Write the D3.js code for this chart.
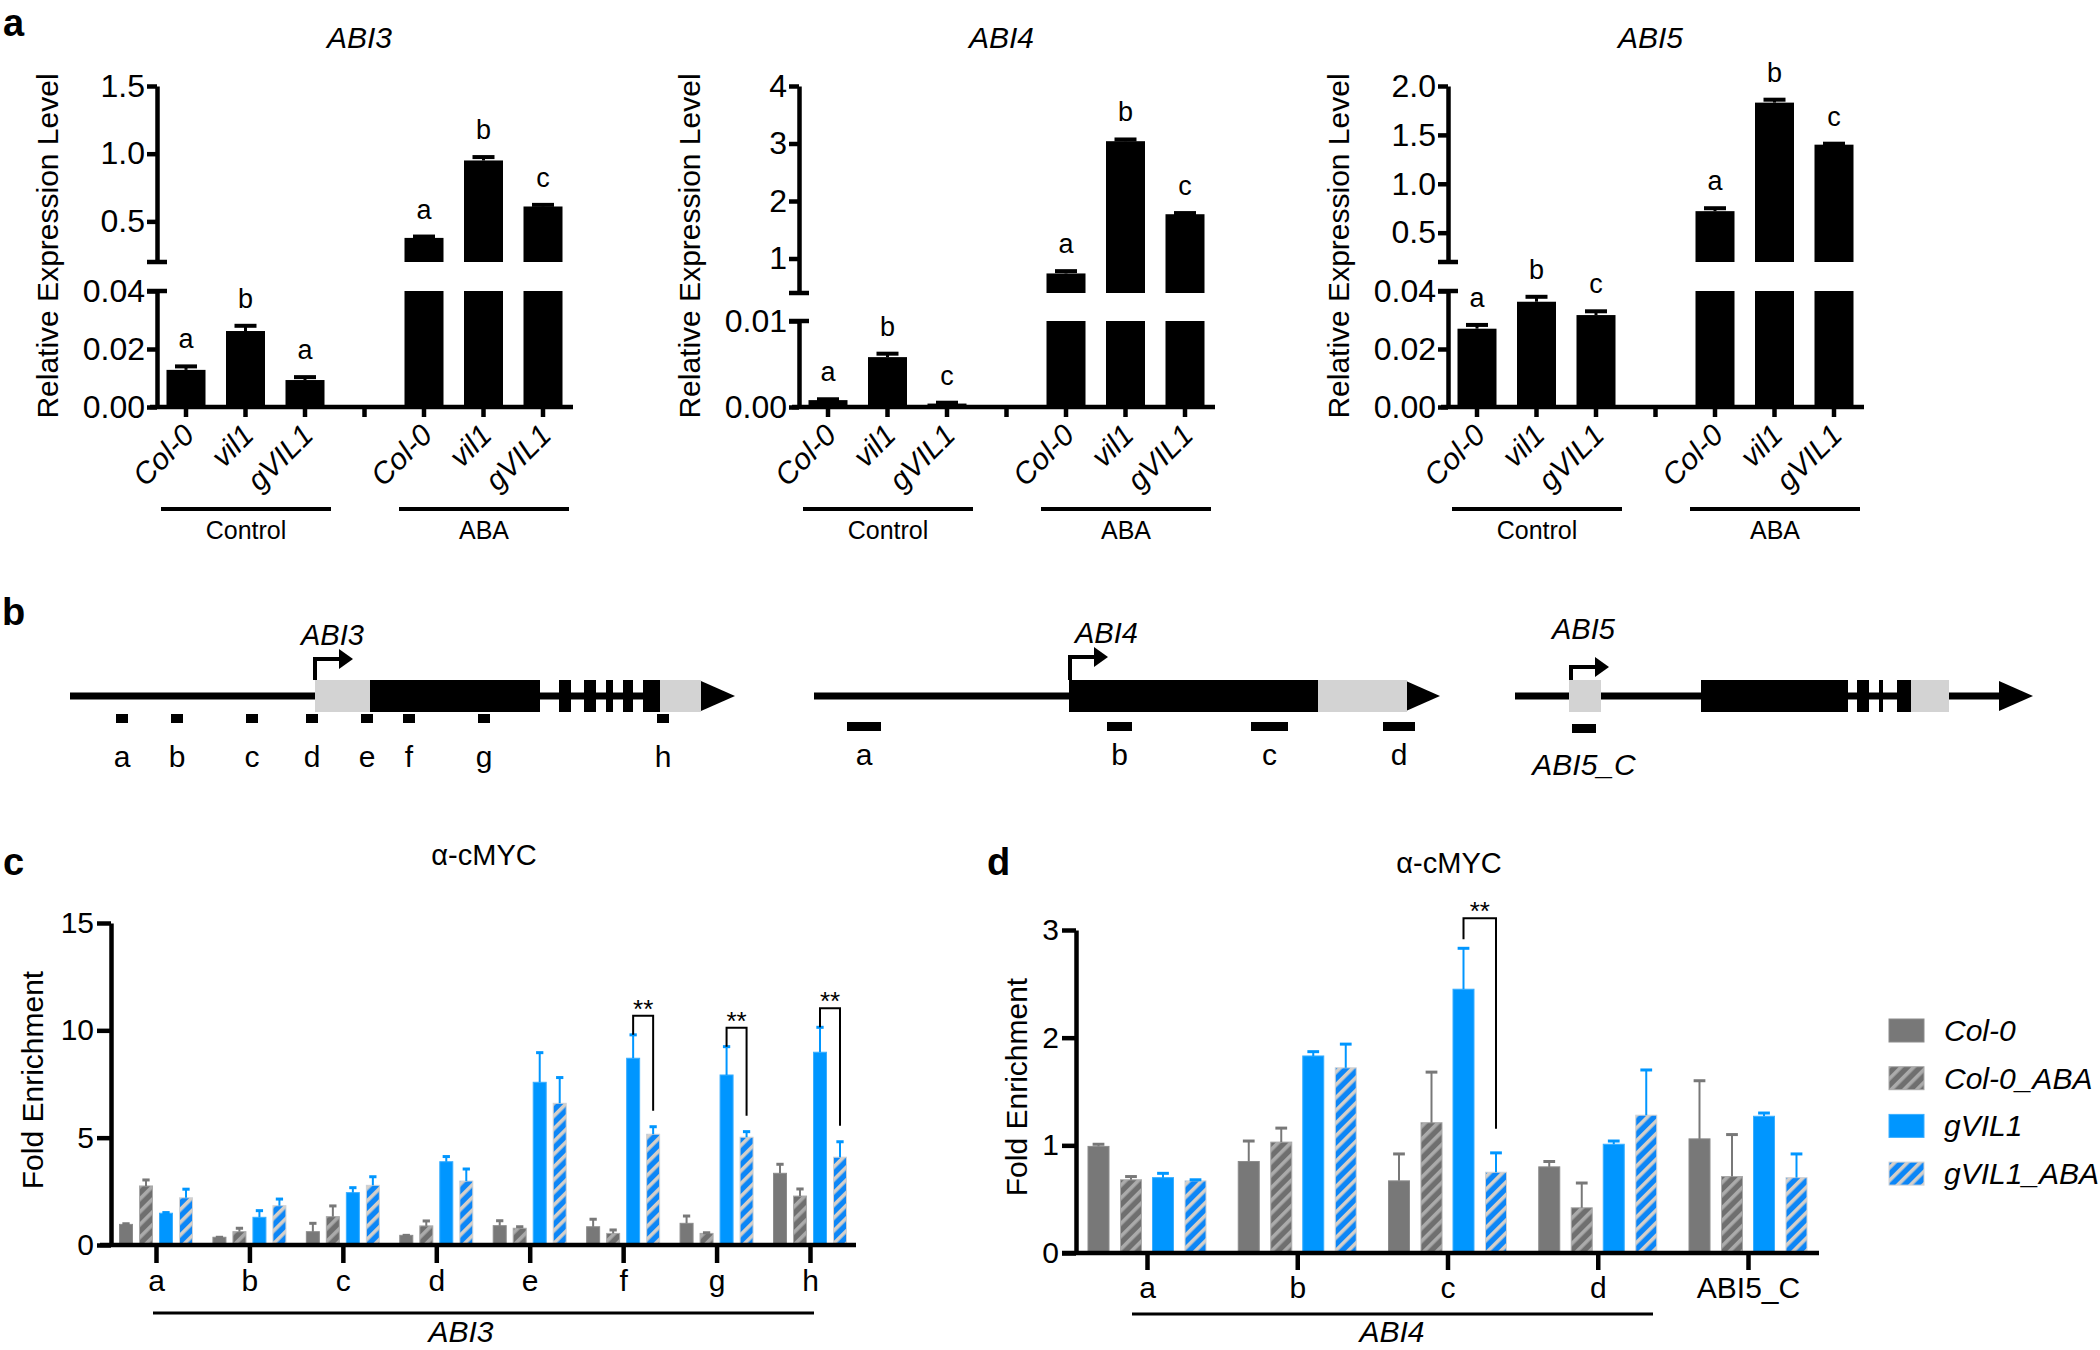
<!DOCTYPE html>
<html>
<head>
<meta charset="utf-8">
<script src="https://cdn.jsdelivr.net/npm/d3@7"></script>
<style>
    body { margin: 0; background: #fff; }
    svg text { font-family: "Liberation Sans", Arial, sans-serif; fill: #000; }
</style>
</head>
<body>
<div id="canvas"></div>
<script>
/**
 * Data
 */
const genotypes = ["Col-0", "vil1", "gVIL1"];
const treatments = ["Control", "ABA"];

// panel a: relative expression (Control x3, ABA x3)
const abi3Mean = [0.0128, 0.0262, 0.0093, 0.378, 0.950, 0.610];
const abi3Err = [0.0012, 0.0018, 0.0010, 0.010, 0.025, 0.012];
const abi3Letters = ["a", "b", "a", "a", "b", "c"];
const abi3UpperTicks = [0.5, 1.0, 1.5];
const abi3LowerTicks = [0, 0.02, 0.04];

const abi4Mean = [0.0008, 0.0058, 0.0004, 0.74, 3.04, 1.77];
const abi4Err = [0.0001, 0.0004, 0.0001, 0.04, 0.03, 0.02];
const abi4Letters = ["a", "b", "c", "a", "b", "c"];
const abi4UpperTicks = [1, 2, 3, 4];
const abi4LowerTicks = [0, 0.01];

const abi5Mean = [0.0270, 0.0363, 0.0317, 0.72, 1.83, 1.40];
const abi5Err = [0.0013, 0.0017, 0.0013, 0.03, 0.03, 0.01];
const abi5Letters = ["a", "b", "c", "a", "b", "c"];
const abi5UpperTicks = [0.5, 1.0, 1.5, 2.0];
const abi5LowerTicks = [0, 0.02, 0.04];

// panel b: gene models (units along the drawn gene)
const abi3Utr = [[245, 300], [590, 631]];
const abi3Exons = [[300, 470], [489, 501], [514, 526], [536, 543], [553, 563], [573, 590]];
const abi3AmpNames = ["a", "b", "c", "d", "e", "f", "g", "h"];
const abi3AmpPos = [[46, 58], [101, 113], [176, 188], [236, 248], [291, 303], [333, 345], [408, 420], [587, 599]];

const abi4Utr = [[504, 593]];
const abi4Exons = [[255, 504]];
const abi4AmpNames = ["a", "b", "c", "d"];
const abi4AmpPos = [[33, 67], [293, 318], [437, 474], [569, 601]];

const abi5Utr = [[54, 86], [396, 434]];
const abi5Exons = [[186, 333], [342, 354], [364, 368], [382, 396]];
const abi5AmpNames = ["ABI5_C"];
const abi5AmpPos = [[57, 81]];

// panel c: ChIP fold enrichment on ABI3
const seriesNames = ["Col-0", "Col-0_ABA", "gVIL1", "gVIL1_ABA"];
const cSites = ["a", "b", "c", "d", "e", "f", "g", "h"];
const cCol0 = [0.96, 0.36, 0.62, 0.45, 0.90, 0.85, 1.01, 3.34];
const cCol0Err = [0.03, 0, 0.39, 0, 0.23, 0.35, 0.34, 0.42];
const cCol0ABA = [2.75, 0.62, 1.32, 0.89, 0.78, 0.54, 0.54, 2.28];
const cCol0ABAErr = [0.28, 0.16, 0.50, 0.23, 0.07, 0.16, 0.03, 0.33];
const cGVIL1 = [1.48, 1.29, 2.44, 3.88, 7.58, 8.70, 7.92, 8.98];
const cGVIL1Err = [0.03, 0.31, 0.23, 0.24, 1.38, 1.09, 1.32, 1.16];
const cGVIL1ABA = [2.20, 1.83, 2.78, 2.98, 6.60, 5.16, 5.02, 4.09];
const cGVIL1ABAErr = [0.40, 0.31, 0.40, 0.56, 1.20, 0.35, 0.26, 0.72];
const cSig = ["f", "g", "h"];
const cTicks = [0, 5, 10, 15];

// panel d: ChIP fold enrichment on ABI4 / ABI5
const dSites = ["a", "b", "c", "d", "ABI5_C"];
const dCol0 = [0.99, 0.85, 0.67, 0.80, 1.06];
const dCol0Err = [0.02, 0.19, 0.25, 0.05, 0.54];
const dCol0ABA = [0.68, 1.03, 1.21, 0.42, 0.71];
const dCol0ABAErr = [0.03, 0.13, 0.47, 0.23, 0.39];
const dGVIL1 = [0.70, 1.83, 2.45, 1.01, 1.27];
const dGVIL1Err = [0.04, 0.04, 0.38, 0.03, 0.03];
const dGVIL1ABA = [0.67, 1.72, 0.75, 1.28, 0.70];
const dGVIL1ABAErr = [0.01, 0.22, 0.18, 0.42, 0.22];
const dSig = ["c"];
const dTicks = [0, 1, 2, 3];

/**
 * Helpers
 */
const svg = d3.select("#canvas").append("svg")
    .attr("width", 2100)
    .attr("height", 1350);

const defs = svg.append("defs");
function addHatch(id, base, stripe) {
    const p = defs.append("pattern")
        .attr("id", id)
        .attr("patternUnits", "userSpaceOnUse")
        .attr("width", 9)
        .attr("height", 9)
        .attr("patternTransform", "rotate(45)");
    p.append("rect").attr("width", 9).attr("height", 9).attr("fill", base);
    p.append("rect").attr("width", 3.6).attr("height", 9).attr("fill", stripe);
}
addHatch("hatchGray", "#6f6f6f", "#ababab");
addHatch("hatchBlue", "#0c86f7", "#d6cfc8");

const seriesStyle = [
    { fill: "#787878", stroke: "#8c8c8c", err: "#787878" },
    { fill: "url(#hatchGray)", stroke: "#a8a8a8", err: "#787878" },
    { fill: "#0096ff", stroke: "#3aaeff", err: "#0096ff" },
    { fill: "url(#hatchBlue)", stroke: "#cfd2d6", err: "#0096ff" }
];

function styleAxis(sel, fontSize) {
    sel.attr("font-family", null).attr("font-size", null);
    sel.selectAll("path.domain").attr("stroke-width", 4.5);
    sel.selectAll(".tick line").attr("stroke-width", 4.5);
    sel.selectAll(".tick text").style("font-size", fontSize + "px");
}

function panelLetter(txt, x, y) {
    svg.append("text")
        .attr("x", x).attr("y", y)
        .style("font-size", "38px")
        .style("font-weight", "bold")
        .text(txt);
}

/**
 * Panel a: broken axis bar charts
 */
function drawBroken(cfg) {
    const g = svg.append("g");
    const topY = 86, zeroY = 407;
    const upper = d3.scaleLinear().domain(cfg.upperDomain).range([cfg.upperBottom, topY]);
    const lower = d3.scaleLinear().domain(cfg.lowerDomain).range([zeroY, cfg.lowerTop]);
    const x = d3.scalePoint().domain(d3.range(7)).range([cfg.axisX + 29, cfg.axisX + 29 + 6 * 59.5]);
    const bw = 39;
    const lowerMax = cfg.lowerDomain[1];

    const rows = cfg.mean.map((m, i) => ({
        slot: i < 3 ? i : i + 1,
        mean: m,
        err: cfg.err[i],
        letter: cfg.letters[i],
        label: genotypes[i % 3]
    }));

    rows.forEach(d => {
        const xc = x(d.slot);
        let top, errTop;
        if (d.mean <= lowerMax) {
            top = lower(d.mean);
            errTop = lower(d.mean + d.err);
            g.append("rect").attr("x", xc - bw / 2).attr("y", top)
                .attr("width", bw).attr("height", zeroY - top).attr("fill", "#000");
        } else {
            g.append("rect").attr("x", xc - bw / 2).attr("y", cfg.lowerTop)
                .attr("width", bw).attr("height", zeroY - cfg.lowerTop).attr("fill", "#000");
            top = upper(d.mean);
            errTop = upper(d.mean + d.err);
            g.append("rect").attr("x", xc - bw / 2).attr("y", top)
                .attr("width", bw).attr("height", cfg.upperBottom - top).attr("fill", "#000");
        }
        g.append("line").attr("x1", xc).attr("x2", xc).attr("y1", top).attr("y2", errTop)
            .attr("stroke", "#000").attr("stroke-width", 3);
        g.append("line").attr("x1", xc - 11).attr("x2", xc + 11).attr("y1", errTop).attr("y2", errTop)
            .attr("stroke", "#000").attr("stroke-width", 4);
        g.append("text").attr("x", xc).attr("y", errTop - 18)
            .attr("text-anchor", "middle").style("font-size", "27px").text(d.letter);
        g.append("text")
            .attr("transform", `translate(${xc + 10},${zeroY + 30}) rotate(-45)`)
            .attr("text-anchor", "end")
            .style("font-size", "30px").style("font-style", "italic")
            .text(d.label);
    });

    // axes
    const ua = g.append("g").attr("transform", `translate(${cfg.axisX},0)`)
        .call(d3.axisLeft(upper).tickValues(cfg.upperTicks).tickSize(10).tickSizeOuter(0)
            .tickPadding(2).tickFormat(d3.format(cfg.upperFmt)));
    styleAxis(ua, 32);
    const la = g.append("g").attr("transform", `translate(${cfg.axisX},0)`)
        .call(d3.axisLeft(lower).tickValues(cfg.lowerTicks).tickSize(10).tickSizeOuter(0)
            .tickPadding(2).tickFormat(d3.format(cfg.lowerFmt)));
    styleAxis(la, 32);
    [cfg.upperBottom, cfg.lowerTop].forEach(yy => {
        g.append("line").attr("x1", cfg.axisX - 10).attr("x2", cfg.axisX + 10)
            .attr("y1", yy).attr("y2", yy).attr("stroke", "#000").attr("stroke-width", 4.5);
    });
    g.append("line").attr("x1", cfg.axisX - 7).attr("x2", x(6) + 30)
        .attr("y1", zeroY).attr("y2", zeroY).attr("stroke", "#000").attr("stroke-width", 4.5);
    d3.range(7).forEach(s => {
        g.append("line").attr("x1", x(s)).attr("x2", x(s)).attr("y1", zeroY).attr("y2", zeroY + 10)
            .attr("stroke", "#000").attr("stroke-width", 4.5);
    });

    // group bars
    treatments.forEach((t, ti) => {
        const x0 = x(ti * 4) - 25, x1 = x(ti * 4 + 2) + 26;
        g.append("line").attr("x1", x0).attr("x2", x1).attr("y1", 509).attr("y2", 509)
            .attr("stroke", "#000").attr("stroke-width", 4);
        g.append("text").attr("x", (x0 + x1) / 2).attr("y", 539)
            .attr("text-anchor", "middle").style("font-size", "25px").text(t);
    });

    g.append("text").attr("x", x(3) - 5).attr("y", 48).attr("text-anchor", "middle")
        .style("font-size", "30px").style("font-style", "italic").text(cfg.title);
    g.append("text")
        .attr("transform", `translate(${cfg.axisX - 99},246) rotate(-90)`)
        .attr("text-anchor", "middle").style("font-size", "30px")
        .text("Relative Expression Level");
}

drawBroken({ title: "ABI3", mean: abi3Mean, err: abi3Err, letters: abi3Letters,
    upperDomain: [0.2, 1.5], upperTicks: abi3UpperTicks, upperFmt: ".1f",
    lowerDomain: [0, 0.04], lowerTicks: abi3LowerTicks, lowerFmt: ".2f",
    axisX: 157, upperBottom: 262, lowerTop: 291 });
drawBroken({ title: "ABI4", mean: abi4Mean, err: abi4Err, letters: abi4Letters,
    upperDomain: [0.4, 4], upperTicks: abi4UpperTicks, upperFmt: "d",
    lowerDomain: [0, 0.01], lowerTicks: abi4LowerTicks, lowerFmt: ".2f",
    axisX: 799, upperBottom: 293, lowerTop: 321 });
drawBroken({ title: "ABI5", mean: abi5Mean, err: abi5Err, letters: abi5Letters,
    upperDomain: [0.2, 2.0], upperTicks: abi5UpperTicks, upperFmt: ".1f",
    lowerDomain: [0, 0.04], lowerTicks: abi5LowerTicks, lowerFmt: ".2f",
    axisX: 1448, upperBottom: 262, lowerTop: 291 });

/**
 * Panel b: gene models
 */
function drawGene(cfg) {
    const g = svg.append("g");
    const gx = d3.scaleLinear().domain([0, cfg.len]).range([cfg.x0, cfg.x0 + cfg.len]);
    const midY = 696, head = 34;
    g.append("line").attr("x1", gx(0)).attr("x2", gx(cfg.len - head))
        .attr("y1", midY).attr("y2", midY).attr("stroke", "#000").attr("stroke-width", 7);
    g.append("path")
        .attr("d", `M${gx(cfg.len - head)},${midY - 15}L${gx(cfg.len)},${midY}L${gx(cfg.len - head)},${midY + 15}Z`)
        .attr("fill", "#000");
    cfg.utr.forEach(u => {
        g.append("rect").attr("x", gx(u[0])).attr("y", 680).attr("width", gx(u[1]) - gx(u[0]))
            .attr("height", 32).attr("fill", "#d3d3d3");
    });
    cfg.exons.forEach(u => {
        g.append("rect").attr("x", gx(u[0])).attr("y", 680).attr("width", gx(u[1]) - gx(u[0]))
            .attr("height", 32).attr("fill", "#000");
    });
    // transcription start
    const tx = gx(cfg.tss), ty = 680 - cfg.tssH;
    g.append("path").attr("d", `M${tx},680V${ty}H${tx + 26}`)
        .attr("fill", "none").attr("stroke", "#000").attr("stroke-width", 4);
    g.append("path").attr("d", `M${tx + 24},${ty - 10}L${tx + 38},${ty}L${tx + 24},${ty + 10}Z`)
        .attr("fill", "#000");
    g.append("text").attr("x", tx + cfg.nameDx).attr("y", cfg.nameY)
        .style("font-size", "29px").style("font-style", "italic").text(cfg.name);
    // amplicons
    cfg.ampPos.forEach((p, i) => {
        g.append("rect").attr("x", gx(p[0])).attr("y", cfg.ampY).attr("width", gx(p[1]) - gx(p[0]))
            .attr("height", 9).attr("fill", "#000");
        g.append("text").attr("x", (gx(p[0]) + gx(p[1])) / 2).attr("y", cfg.ampLabelY)
            .attr("text-anchor", "middle").style("font-size", "30px")
            .style("font-style", cfg.ampItalic ? "italic" : "normal")
            .text(cfg.ampNames[i]);
    });
}

drawGene({ name: "ABI3", x0: 70, len: 665, utr: abi3Utr, exons: abi3Exons, tss: 245, tssH: 21,
    nameDx: -14, nameY: 645, ampPos: abi3AmpPos, ampNames: abi3AmpNames, ampY: 714, ampLabelY: 767 });
drawGene({ name: "ABI4", x0: 814, len: 626, utr: abi4Utr, exons: abi4Exons, tss: 256, tssH: 23,
    nameDx: 5, nameY: 643, ampPos: abi4AmpPos, ampNames: abi4AmpNames, ampY: 722, ampLabelY: 765 });
drawGene({ name: "ABI5", x0: 1515, len: 518, utr: abi5Utr, exons: abi5Exons, tss: 56, tssH: 13,
    nameDx: -19, nameY: 639, ampPos: abi5AmpPos, ampNames: abi5AmpNames, ampY: 724, ampLabelY: 775, ampItalic: true });

/**
 * Panels c and d: ChIP bars
 */
function drawChip(cfg) {
    const g = svg.append("g");
    const y = d3.scaleLinear().domain(cfg.yDomain).range([cfg.zeroY, cfg.topY]);
    const x = d3.scalePoint().domain(cfg.sites).range(cfg.xRange);

    cfg.series.forEach((vals, si) => {
        const st = seriesStyle[si];
        vals.forEach((v, i) => {
            const xc = x(cfg.sites[i]) + cfg.offsets[si];
            const e = cfg.errs[si][i];
            g.append("rect")
                .attr("x", xc - cfg.bw / 2).attr("y", y(v))
                .attr("width", cfg.bw).attr("height", cfg.zeroY - y(v))
                .attr("fill", st.fill).attr("stroke", st.stroke).attr("stroke-width", 1);
            if (e > 0.015) {
                g.append("line").attr("x1", xc).attr("x2", xc).attr("y1", y(v)).attr("y2", y(v + e))
                    .attr("stroke", st.err).attr("stroke-width", 2);
            }
            g.append("line").attr("x1", xc - cfg.bw * 0.28).attr("x2", xc + cfg.bw * 0.28)
                .attr("y1", y(v + e)).attr("y2", y(v + e))
                .attr("stroke", st.err).attr("stroke-width", 3);
        });
    });

    // significance brackets
    cfg.sig.forEach(site => {
        const i = cfg.sites.indexOf(site);
        const xl = x(site) + cfg.offsets[2], xr = x(site) + cfg.offsets[3];
        const lTop = y(cfg.series[2][i] + cfg.errs[2][i]);
        const rTop = y(cfg.series[3][i] + cfg.errs[3][i]);
        const top = lTop - cfg.brTop;
        g.append("path")
            .attr("d", `M${xl},${lTop - cfg.brLeft}V${top}H${xr}V${rTop - cfg.brRight}`)
            .attr("fill", "none").attr("stroke", "#000").attr("stroke-width", 2);
        g.append("text").attr("x", (xl + xr) / 2).attr("y", top + 2)
            .attr("text-anchor", "middle").style("font-size", "26px").text("**");
    });

    const ya = g.append("g").attr("transform", `translate(${cfg.axisX},0)`)
        .call(d3.axisLeft(y).tickValues(cfg.ticks).tickSize(14).tickSizeOuter(0).tickPadding(3)
            .tickFormat(d3.format("d")));
    styleAxis(ya, 30);
    const xa = g.append("g").attr("transform", `translate(0,${cfg.zeroY})`)
        .call(d3.axisBottom(x).tickSize(cfg.xTick).tickSizeOuter(0).tickPadding(7));
    xa.select(".domain").remove();
    styleAxis(xa, 30);
    g.append("line").attr("x1", cfg.xLine[0]).attr("x2", cfg.xLine[1])
        .attr("y1", cfg.zeroY).attr("y2", cfg.zeroY).attr("stroke", "#000").attr("stroke-width", 4.5);

    g.append("line").attr("x1", cfg.groupLine[0]).attr("x2", cfg.groupLine[1])
        .attr("y1", cfg.groupY).attr("y2", cfg.groupY).attr("stroke", "#000").attr("stroke-width", 3);
    g.append("text").attr("x", cfg.groupX).attr("y", 1342).attr("text-anchor", "middle")
        .style("font-size", "30px").style("font-style", "italic").text(cfg.group);

    g.append("text").attr("x", cfg.titleX).attr("y", cfg.titleY).attr("text-anchor", "middle")
        .style("font-size", "29px").text("α-cMYC");
    g.append("text")
        .attr("transform", `translate(${cfg.labelX},${cfg.labelY}) rotate(-90)`)
        .attr("text-anchor", "middle").style("font-size", "30px").text("Fold Enrichment");
}

drawChip({ sites: cSites,
    series: [cCol0, cCol0ABA, cGVIL1, cGVIL1ABA],
    errs: [cCol0Err, cCol0ABAErr, cGVIL1Err, cGVIL1ABAErr],
    sig: cSig, ticks: cTicks, yDomain: [0, 15],
    zeroY: 1245, topY: 923, axisX: 111, xRange: [156, 810], xLine: [100, 856], xTick: 18,
    bw: 13, offsets: [-30, -10, 10, 30], brTop: 19, brLeft: 0, brRight: 16,
    groupLine: [153, 814], groupY: 1313, groupX: 461, group: "ABI3",
    titleX: 484, titleY: 865, labelX: 43, labelY: 1080 });

drawChip({ sites: dSites,
    series: [dCol0, dCol0ABA, dGVIL1, dGVIL1ABA],
    errs: [dCol0Err, dCol0ABAErr, dGVIL1Err, dGVIL1ABAErr],
    sig: dSig, ticks: dTicks, yDomain: [0, 3],
    zeroY: 1253, topY: 930, axisX: 1076, xRange: [1147, 1748], xLine: [1062, 1819], xTick: 17,
    bw: 21, offsets: [-48.5, -16, 16, 48.5], brTop: 30, brLeft: 9, brRight: 24,
    groupLine: [1132, 1653], groupY: 1314, groupX: 1392, group: "ABI4",
    titleX: 1449, titleY: 873, labelX: 1027, labelY: 1087 });

// legend
seriesNames.forEach((name, i) => {
    const yy = 1019 + i * 47.7;
    svg.append("rect").attr("x", 1889).attr("y", yy).attr("width", 35).attr("height", 23)
        .attr("fill", seriesStyle[i].fill).attr("stroke", seriesStyle[i].stroke).attr("stroke-width", 1);
    svg.append("text").attr("x", 1944).attr("y", yy + 22)
        .style("font-size", "30px").style("font-style", "italic").text(name);
});

panelLetter("a", 3, 36);
panelLetter("b", 2, 625);
panelLetter("c", 3, 875);
panelLetter("d", 987, 875);
</script>
</body>
</html>
